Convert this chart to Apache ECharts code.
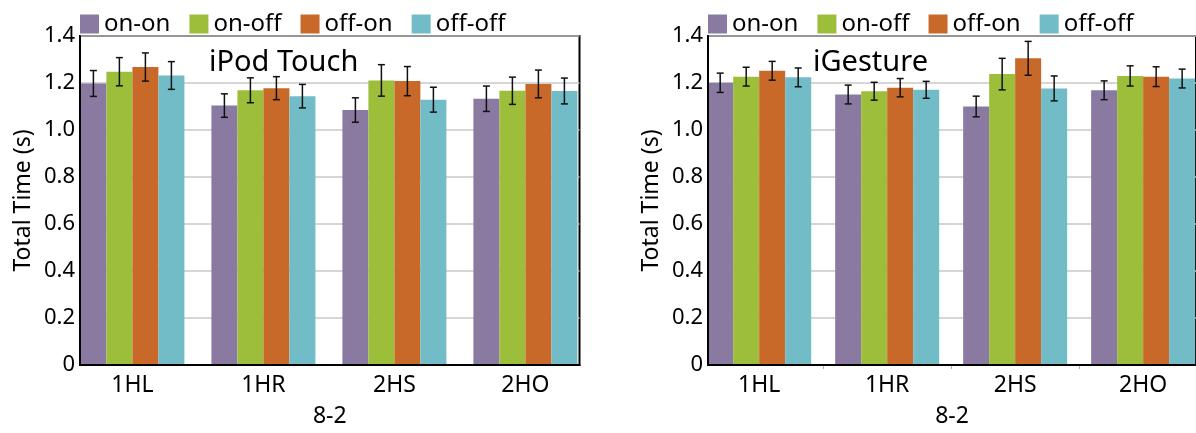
<!DOCTYPE html>
<html>
<head>
<meta charset="utf-8">
<script src="https://cdn.jsdelivr.net/npm/echarts@6/dist/echarts.min.js"></script>
<style>
  html, body { margin: 0; padding: 0; background: #fff; }
  #chart { width: 1196px; height: 433px; }
</style>
</head>
<body>
<div id="chart"></div>
<script>
// ---- data ----
const categories = ['1HL', '1HR', '2HS', '2HO'];
const seriesNames = ['on-on', 'on-off', 'off-on', 'off-off'];
const yTicks = [0, 0.2, 0.4, 0.6, 0.8, 1.0, 1.2, 1.4];
const xAxisTitle = '8-2';
const yAxisTitle = 'Total Time (s)';
const panelTitles = ['iPod Touch', 'iGesture'];

// iPod Touch: means and half-widths of error bars
const ipodOnOn = [1.198, 1.104, 1.085, 1.133];
const ipodOnOff = [1.248, 1.169, 1.211, 1.167];
const ipodOffOn = [1.268, 1.178, 1.208, 1.196];
const ipodOffOff = [1.232, 1.144, 1.129, 1.166];
const ipodOnOnErr = [0.055, 0.050, 0.052, 0.054];
const ipodOnOffErr = [0.060, 0.053, 0.067, 0.058];
const ipodOffOnErr = [0.060, 0.049, 0.062, 0.059];
const ipodOffOffErr = [0.059, 0.050, 0.053, 0.055];

// iGesture
const igOnOn = [1.201, 1.151, 1.100, 1.169];
const igOnOff = [1.227, 1.165, 1.238, 1.230];
const igOffOn = [1.252, 1.180, 1.305, 1.227];
const igOffOff = [1.224, 1.171, 1.177, 1.219];
const igOnOnErr = [0.041, 0.040, 0.044, 0.040];
const igOnOffErr = [0.040, 0.038, 0.067, 0.043];
const igOffOnErr = [0.040, 0.039, 0.072, 0.042];
const igOffOffErr = [0.040, 0.036, 0.053, 0.040];

// ---- style ----
const colors = ['#8A7AA2', '#9DBE3B', '#C8692A', '#71BCC6'];
const FONT = 'Noto Sans';
const BAR_W = 26;
const X_MIN = -0.4, X_MAX = 3.413;

const panels = [
  { means: [ipodOnOn, ipodOnOff, ipodOffOn, ipodOffOff], errs: [ipodOnOnErr, ipodOnOffErr, ipodOffOnErr, ipodOffOffErr], left: 80, ticks: false, titleLeft: 209 },
  { means: [igOnOn, igOnOff, igOffOn, igOffOff], errs: [igOnOnErr, igOnOffErr, igOffOnErr, igOffOffErr], left: 708, ticks: true, titleLeft: 813 }
];

const chart = echarts.init(document.getElementById('chart'), null, { renderer: 'canvas' });

const grids = [], xAxes = [], yAxes = [], series = [], legends = [], titles = [];

panels.forEach((p, gi) => {
  grids.push({ left: p.left, top: 36, width: 499.5, height: 340, show: true, borderColor: '#000', borderWidth: 2, backgroundColor: 'transparent', containLabel: false });
  xAxes.push({
    type: 'value', gridIndex: gi, min: X_MIN, max: X_MAX,
    axisLine: { show: false, onZero: false },
    axisTick: { show: p.ticks, customValues: [0.5, 1.5, 2.5], length: 4, lineStyle: { color: '#aaa', width: 1 } },
    splitLine: { show: false },
    axisLabel: {
      customValues: categories.map((c, i) => i),
      formatter: v => categories[Math.round(v)],
      fontFamily: FONT, fontSize: 23, color: '#000', margin: 9
    },
    name: xAxisTitle, nameLocation: 'middle', nameGap: 40,
    nameTextStyle: { fontFamily: FONT, fontSize: 23, color: '#000' }
  });
  yAxes.push({
    type: 'value', gridIndex: gi, min: yTicks[0], max: yTicks[yTicks.length - 1], interval: 0.2,
    axisLine: { show: false, onZero: false },
    axisTick: { show: false },
    splitLine: { show: true, lineStyle: { color: '#c8c8c8', width: 1.5 } },
    axisLabel: {
      formatter: v => (v === 0 ? '0' : v.toFixed(1)),
      fontFamily: FONT, fontSize: 22, color: '#000', margin: 5
    },
    name: yAxisTitle, nameLocation: 'middle', nameGap: 45, nameRotate: 90,
    nameTextStyle: { fontFamily: FONT, fontSize: 23, color: '#000' }
  });
  legends.push({
    left: p.left, top: 12, padding: 0, itemWidth: 19, itemHeight: 19, itemGap: 19, icon: 'rect',
    data: seriesNames, selectedMode: false,
    textStyle: { fontFamily: FONT, fontSize: 24, color: '#000' }
  });
  titles.push({
    text: panelTitles[gi], left: p.titleLeft, top: 48, padding: 0,
    textStyle: { fontFamily: FONT, fontSize: 29, fontWeight: 'normal', color: '#000' }
  });
  const errData = [];
  seriesNames.forEach((name, si) => {
    series.push({
      type: 'bar', name: name, xAxisIndex: gi, yAxisIndex: gi,
      barWidth: BAR_W, barGap: '0%',
      itemStyle: { color: colors[si] },
      data: p.means[si].map((v, ci) => [ci, v])
    });
    p.means[si].forEach((v, ci) => errData.push([ci, v, p.errs[si][ci], si]));
  });
  series.push({
    type: 'custom', xAxisIndex: gi, yAxisIndex: gi, z: 10,
    encode: { x: 0, y: 1 },
    data: errData,
    renderItem: function (params, api) {
      const ci = api.value(0), v = api.value(1), e = api.value(2), si = api.value(3);
      const lo = api.coord([ci, v - e]);
      const hi = api.coord([ci, v + e]);
      const x = lo[0] + (si - 1.5) * BAR_W;
      const st = { stroke: '#111', lineWidth: 1.5 };
      return {
        type: 'group',
        children: [
          { type: 'line', shape: { x1: x, y1: hi[1], x2: x, y2: lo[1] }, style: st },
          { type: 'line', shape: { x1: x - 3.5, y1: hi[1], x2: x + 3.5, y2: hi[1] }, style: st },
          { type: 'line', shape: { x1: x - 3.5, y1: lo[1], x2: x + 3.5, y2: lo[1] }, style: st }
        ]
      };
    }
  });
});

// overlay axes: only the black axis lines, drawn above the bars
panels.forEach((p, gi) => {
  xAxes.push({
    type: 'value', gridIndex: gi, min: X_MIN, max: X_MAX, position: 'bottom', z: 20,
    axisLine: { show: true, onZero: false, lineStyle: { color: '#000', width: 2 } },
    axisTick: { show: false }, axisLabel: { show: false }, splitLine: { show: false }
  });
  yAxes.push({
    type: 'value', gridIndex: gi, min: yTicks[0], max: yTicks[yTicks.length - 1], interval: 0.2, position: 'left', z: 20,
    axisLine: { show: true, onZero: false, lineStyle: { color: '#000', width: 2 } },
    axisTick: { show: false }, axisLabel: { show: false }, splitLine: { show: false }
  });
});

chart.setOption({
  animation: false,
  backgroundColor: '#fff',
  title: titles,
  legend: legends,
  grid: grids,
  xAxis: xAxes,
  yAxis: yAxes,
  series: series
});
</script>
</body>
</html>
